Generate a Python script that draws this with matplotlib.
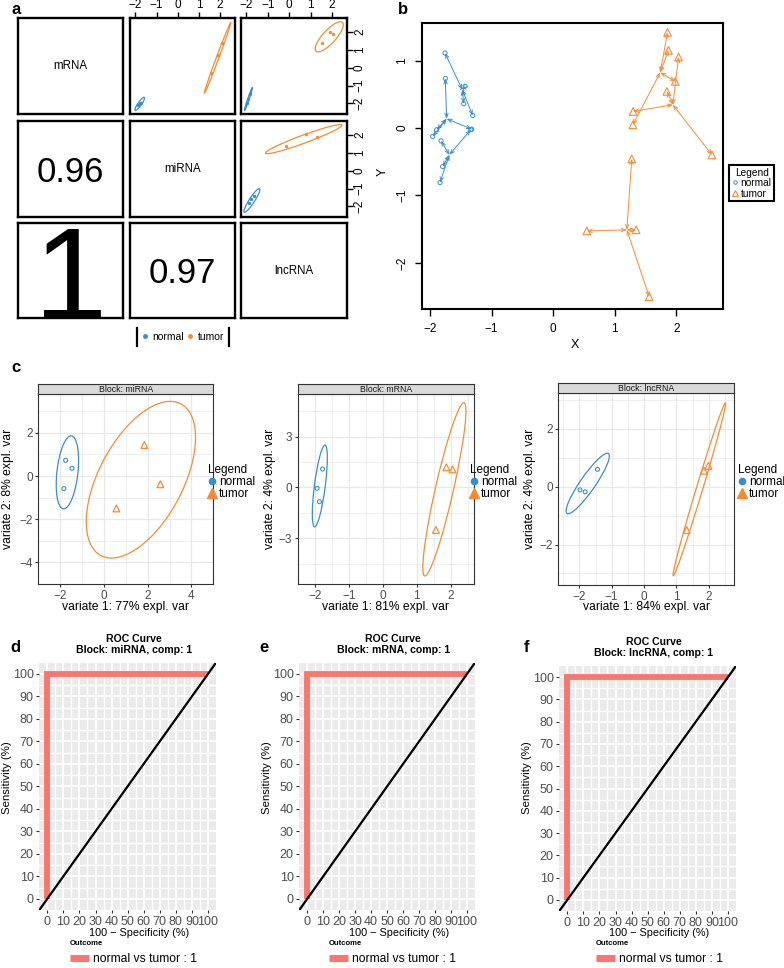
import matplotlib.pyplot as plt
from matplotlib.patches import Ellipse
from matplotlib.lines import Line2D

plt.rcParams['font.family'] = ['Liberation Sans', 'DejaVu Sans']

W, H = 784, 968
BLUE = '#388ECC'
ORANGE = '#F68B33'
ROC_RED = '#F8766D'

# ==========================================
# Data
# ==========================================
blocks = ['mRNA', 'miRNA', 'lncRNA']
groups = ['normal', 'tumor']

# panel a: lower triangle = correlation between blocks
cor_cells = [(1, 0), (2, 0), (2, 1)]
cor_labels = ['0.96', '1', '0.97']
cor_sizes = [25, 95, 25]

# panel a: upper triangle = block vs block component 1
pair_cells = [(0, 1), (0, 2), (1, 2)]
pair_normal_x = [[-1.86, -1.80, -1.72], [-1.98, -1.90, -1.82], [-1.86, -1.62, -1.76]]
pair_normal_y = [[-2.12, -2.00, -1.96], [-2.00, -1.75, -1.50], [-1.83, -1.44, -1.61]]
pair_tumor_x = [[1.58, 1.90, 2.09], [1.92, 2.06, 1.54], [-0.16, 0.78, 1.30]]
pair_tumor_y = [[-0.31, 0.70, 1.38], [2.00, 1.89, 1.38], [1.39, 2.06, 1.89]]
# ellipses: centre x, centre y, semi-major, semi-minor, angle (deg)
pair_normal_ell = [(-1.79, -2.03, 0.42, 0.09, 60), (-1.90, -1.75, 0.68, 0.035, 74),
                   (-1.74, -1.67, 0.75, 0.13, 62)]
pair_tumor_ell = [(1.88, 0.56, 2.095, 0.06, 72.6), (1.87, 1.74, 1.02, 0.33, 54),
                  (0.68, 1.78, 1.95, 0.22, 24)]
a_ticks = [-2, -1, 0, 1, 2]

# panel b: arrow plot (centroid -> each block)
b_normal_cx = [-1.475, -1.729, -1.686]
b_normal_cy = [0.569, 0.138, -0.397]
b_normal_ex = [[-1.756, -1.306, -1.452, -1.43], [-1.751, -1.322, -1.957, -1.892],
               [-1.821, -1.338, -1.794, -1.837]]
b_normal_ey = [[1.114, 0.187, 0.361, 0.62], [0.737, -0.015, -0.124, -0.025],
               [-0.189, -0.025, -0.570, -0.808]]
b_tumor_cx = [1.740, 1.946, 1.198]
b_tumor_cy = [0.826, 0.346, -1.511]
b_tumor_ex = [[1.859, 1.875, 1.984, 1.296], [2.038, 1.848, 1.301, 2.580],
              [1.278, 0.548, 1.350, 1.561]]
b_tumor_ey = [[1.421, 1.153, 0.693, 0.049], [1.055, 0.544, 0.247, -0.397],
              [-0.456, -1.526, -1.510, -2.502]]

# panel c: individual plots per block
c_blocks = ['miRNA', 'mRNA', 'lncRNA']
c_var1 = [77, 81, 84]
c_var2 = [8, 4, 4]
c_normal_x = [[-1.75, -1.46, -1.83], [-1.77, -1.93, -1.86], [-1.44, -1.98, -1.82]]
c_normal_y = [[0.73, 0.36, -0.58], [1.08, -0.06, -0.85], [0.60, -0.11, -0.18]]
c_tumor_x = [[1.85, 2.58, 0.57], [1.87, 2.05, 1.56], [1.85, 1.99, 1.32]]
c_tumor_y = [[1.44, -0.38, -1.50], [1.18, 1.06, -2.52], [0.55, 0.72, -1.50]]
c_normal_ell = [(-1.67, 0.17, 1.70, 0.48, 83.8), (-1.85, 0.08, 2.42, 0.16, 86.4),
                (-1.74, 0.11, 1.22, 0.24, 58.5)]
c_tumor_ell = [(1.69, -0.17, 3.96, 1.93, 62.7), (1.81, -0.12, 5.15, 0.27, 83.6),
               (1.71, -0.09, 3.10, 0.10, 74.9)]
c_xlims = [(-2.45, 4.50), (-2.25, 2.68), (-2.65, 2.79)]
c_ylims = [(-4.11, 3.80), (-5.71, 5.51), (-3.40, 3.25)]
c_xticks = [[-2, 0, 2, 4], [-2, -1, 0, 1, 2], [-2, -1, 0, 1, 2]]
c_yticks = [[-4, -2, 0, 2], [-3, 0, 3], [-2, 0, 2]]

# panels d-f: ROC curves
roc_blocks = ['miRNA', 'mRNA', 'lncRNA']
roc_fpr = [0, 0, 100]
roc_tpr = [0, 100, 100]
roc_ticks = list(range(0, 101, 10))

# ==========================================
# Helpers (pixel layout)
# ==========================================
fig = plt.figure(figsize=(W / 100, H / 100), dpi=100)


def px_axes(x0, y0, x1, y1):
    return fig.add_axes([x0 / W, 1 - y1 / H, (x1 - x0) / W, (y1 - y0) / H])


def px_text(x, y, s, **kw):
    kw.setdefault('ha', 'center')
    kw.setdefault('va', 'center')
    return fig.text(x / W, 1 - y / H, s, **kw)


def add_ellipse(ax, ell, color, lw=0.9):
    cx, cy, a, b, ang = ell
    ax.add_patch(Ellipse((cx, cy), 2 * a, 2 * b, angle=ang, fill=False,
                         edgecolor=color, linewidth=lw))


def minus(vals):
    return [f'{t:d}'.replace('-', '\u2212') for t in vals]


# ==========================================
# Panel a
# ==========================================
col_x = [(18, 123), (130, 235), (241, 347)]
row_y = [(18, 114), (121, 217), (223, 318)]
axes_a = {}
for r in range(3):
    for c in range(3):
        ax = px_axes(col_x[c][0], row_y[r][0], col_x[c][1], row_y[r][1])
        ax.set_xlim(-2.25, 2.7)
        ax.set_ylim(-2.6, 2.8)
        ax.set_xticks([])
        ax.set_yticks([])
        for s in ax.spines.values():
            s.set_linewidth(1.7)
        axes_a[(r, c)] = ax

for i, name in enumerate(blocks):
    axes_a[(i, i)].text(0.5, 0.5, name, transform=axes_a[(i, i)].transAxes,
                        ha='center', va='center', fontsize=8.3)

for (r, c), lab, fs in zip(cor_cells, cor_labels, cor_sizes):
    ax = axes_a[(r, c)]
    y0 = -0.02 if lab == '1' else 0.365
    ax.text(0.5, y0, lab, transform=ax.transAxes, ha='center', va='baseline',
            fontsize=fs, clip_on=True)

for k, (r, c) in enumerate(pair_cells):
    ax = axes_a[(r, c)]
    ax.scatter(pair_normal_x[k], pair_normal_y[k], s=2, color=BLUE, zorder=3)
    ax.scatter(pair_tumor_x[k], pair_tumor_y[k], s=2, color=ORANGE, zorder=3)
    add_ellipse(ax, pair_normal_ell[k], BLUE)
    add_ellipse(ax, pair_tumor_ell[k], ORANGE)

for c in (1, 2):
    ax = axes_a[(0, c)]
    ax.xaxis.set_ticks_position('top')
    ax.set_xticks(a_ticks)
    ax.set_xticklabels(minus(a_ticks))
    ax.tick_params(axis='x', direction='out', length=4, width=1, pad=1, labelsize=8.5)
for r in (0, 1):
    ax = axes_a[(r, 2)]
    ax.yaxis.set_ticks_position('right')
    ax.set_yticks(a_ticks)
    ax.set_yticklabels(minus(a_ticks), rotation=90, va='center')
    ax.tick_params(axis='y', direction='out', length=4, width=1, pad=1, labelsize=8.5)

# legend strip under panel a
axl = px_axes(137, 328, 229, 346)
axl.set_xticks([])
axl.set_yticks([])
axl.spines['top'].set_visible(False)
axl.spines['bottom'].set_visible(False)
axl.spines['left'].set_linewidth(1.6)
axl.spines['right'].set_linewidth(1.6)
axl.patch.set_alpha(0)
a_handles = [Line2D([], [], ls='none', marker='o', ms=2.5, color=col)
             for col in (BLUE, ORANGE)]
axl.legend(a_handles, groups, ncol=2, loc='center', frameon=False, fontsize=7.5,
           handlelength=0.6, handletextpad=0.4, columnspacing=0.3, borderpad=0,
           borderaxespad=0)

# ==========================================
# Panel b
# ==========================================
axb = px_axes(422, 23, 723, 309)
axb.set_xlim(-2.13, 2.76)
axb.set_ylim(-2.685, 1.56)
arrow_kw = dict(arrowstyle='<->,head_length=0.3,head_width=0.12', lw=0.7,
                shrinkA=0, shrinkB=0)
for i in range(3):
    for ex, ey in zip(b_normal_ex[i], b_normal_ey[i]):
        axb.annotate('', xy=(ex, ey), xytext=(b_normal_cx[i], b_normal_cy[i]),
                     arrowprops=dict(color=BLUE, **arrow_kw))
    axb.scatter(b_normal_ex[i], b_normal_ey[i], marker='o', s=9, facecolors='none',
                edgecolors=BLUE, linewidths=0.7, zorder=3)
    for ex, ey in zip(b_tumor_ex[i], b_tumor_ey[i]):
        axb.annotate('', xy=(ex, ey), xytext=(b_tumor_cx[i], b_tumor_cy[i]),
                     arrowprops=dict(color=ORANGE, **arrow_kw))
    axb.scatter(b_tumor_ex[i], b_tumor_ey[i], marker='^', s=30, facecolors='none',
                edgecolors=ORANGE, linewidths=0.8, zorder=3)
axb.set_xticks(a_ticks)
axb.set_xticklabels(minus(a_ticks))
axb.set_yticks([-2, -1, 0, 1])
axb.set_yticklabels(minus([-2, -1, 0, 1]), rotation=90, va='center')
axb.tick_params(direction='out', length=5, width=1, pad=5, labelsize=8.5)
for s in axb.spines.values():
    s.set_linewidth(1.5)
px_text(575, 345, 'X', fontsize=9)
px_text(383, 172, 'Y', fontsize=9, rotation=90)
b_handles = [Line2D([], [], ls='none', marker='o', ms=2.5, mfc='none', mec=BLUE, mew=0.7),
             Line2D([], [], ls='none', marker='^', ms=4.5, mfc='none', mec=ORANGE, mew=0.8)]
legb = axb.legend(b_handles, groups, title='Legend', loc='upper left',
                  bbox_to_anchor=(729 / W, 1 - 165 / H), bbox_transform=fig.transFigure,
                  fontsize=7.3, title_fontsize=7.3, handlelength=0.6, handletextpad=0.3,
                  borderpad=0.25, labelspacing=0.05, borderaxespad=0, fancybox=False,
                  edgecolor='black', framealpha=1)
legb.get_frame().set_linewidth(1.5)
legb.set_clip_on(False)

# ==========================================
# Panel c
# ==========================================
c_boxes = [(38.3, 394, 213.3, 584), (297.7, 394, 474, 584), (558.3, 392.7, 734.3, 585)]
c_strip_top = [384, 384, 383.3]
c_legend_x = [208, 470, 738]
c_ylabel_x = [8, 270, 530]
grid_col = '#E8E8E8'
for i in range(3):
    x0, y0, x1, y1 = c_boxes[i]
    ax = px_axes(x0, y0, x1, y1)
    ax.set_xlim(*c_xlims[i])
    ax.set_ylim(*c_ylims[i])
    ax.set_xticks(c_xticks[i])
    ax.set_yticks(c_yticks[i])
    ax.set_xticklabels(minus(c_xticks[i]))
    ax.set_yticklabels(minus(c_yticks[i]))
    xs = c_xticks[i]
    ys = c_yticks[i]
    ax.set_xticks([(a + b) / 2 for a, b in zip(xs[:-1], xs[1:])]
                  + [xs[0] - (xs[1] - xs[0]) / 2, xs[-1] + (xs[1] - xs[0]) / 2], minor=True)
    ax.set_yticks([(a + b) / 2 for a, b in zip(ys[:-1], ys[1:])]
                  + [ys[0] - (ys[1] - ys[0]) / 2, ys[-1] + (ys[1] - ys[0]) / 2], minor=True)
    ax.grid(which='major', color=grid_col, lw=0.9)
    ax.grid(which='minor', color=grid_col, lw=0.5)
    ax.set_axisbelow(True)
    ax.tick_params(which='minor', length=0)
    ax.tick_params(which='major', direction='out', length=2.5, width=0.8, color='#333333',
                   labelcolor='#4D4D4D', labelsize=8.5, pad=1.5)
    for s in ax.spines.values():
        s.set_color('#333333')
        s.set_linewidth(0.8)
    add_ellipse(ax, c_normal_ell[i], BLUE)
    add_ellipse(ax, c_tumor_ell[i], ORANGE)
    ax.scatter(c_normal_x[i], c_normal_y[i], marker='o', s=8, facecolors='none',
               edgecolors=BLUE, linewidths=0.8, zorder=3)
    ax.scatter(c_tumor_x[i], c_tumor_y[i], marker='^', s=24, facecolors='none',
               edgecolors=ORANGE, linewidths=0.9, zorder=3)
    # strip
    axs = px_axes(x0, c_strip_top[i], x1, y0)
    axs.set_facecolor('#D9D9D9')
    axs.set_xticks([])
    axs.set_yticks([])
    for s in axs.spines.values():
        s.set_color('#333333')
        s.set_linewidth(0.8)
    axs.text(0.5, 0.45, f'Block: {c_blocks[i]}', transform=axs.transAxes,
             ha='center', va='center', fontsize=6.3, color='#1A1A1A')
    # axis titles
    px_text((x0 + x1) / 2, 607, f'variate 1: {c_var1[i]}% expl. var', fontsize=8.7)
    px_text(c_ylabel_x[i], (y0 + y1) / 2, f'variate 2: {c_var2[i]}% expl. var',
            fontsize=8.7, rotation=90)
    c_handles = [Line2D([], [], ls='none', marker='o', ms=4.5, color=BLUE),
                 Line2D([], [], ls='none', marker='^', ms=6.5, color=ORANGE)]
    ax.legend(c_handles, groups, title='Legend', alignment='left', loc='upper left',
              bbox_to_anchor=(c_legend_x[i] / W, 1 - 464 / H), bbox_transform=fig.transFigure,
              frameon=False, fontsize=8.5, title_fontsize=8.5, handlelength=0.7,
              handletextpad=0.25, borderpad=0, labelspacing=0.02, borderaxespad=0)

# ==========================================
# Panels d-f: ROC
# ==========================================
roc_boxes = [(39.3, 662.7, 216, 910), (299.3, 662.7, 475, 910), (559.3, 666, 736, 911)]
roc_leg_x = [70, 329, 596]
roc_ylabel_x = [7, 267, 527]
for i in range(3):
    x0, y0, x1, y1 = roc_boxes[i]
    w = x1 - x0
    ax = px_axes(x0, y0, x1, y1)
    ax.set_facecolor('#EBEBEB')
    ax.set_xlim(-5, 105)
    ax.set_ylim(-5, 105)
    ax.set_xticks(roc_ticks)
    ax.set_yticks(roc_ticks)
    ax.set_xticks([t + 5 for t in roc_ticks[:-1]], minor=True)
    ax.set_yticks([t + 5 for t in roc_ticks[:-1]], minor=True)
    ax.grid(which='major', color='white', lw=1.3)
    ax.grid(which='minor', color='white', lw=1.0)
    ax.set_axisbelow(True)
    ax.tick_params(which='minor', length=0)
    ax.tick_params(which='major', direction='out', length=2.5, width=0.8, color='#333333',
                   labelcolor='#4D4D4D', labelsize=9, pad=1.5)
    for s in ax.spines.values():
        s.set_visible(False)
    ax.plot(roc_fpr, roc_tpr, color=ROC_RED, lw=4.2, solid_capstyle='butt',
            solid_joinstyle='miter', zorder=3)
    ax.axline((0, 0), slope=1, color='black', lw=1.6, zorder=4)
    ax.text(0.5 + 6 / w, 1 + 8 / (y1 - y0),
            f'ROC Curve\nBlock: {roc_blocks[i]}, comp: 1', transform=ax.transAxes,
            ha='center', va='bottom', fontsize=7.6, fontweight='bold', linespacing=1.1)
    px_text(x0 + w / 2 + 11.5, 933, '100 \u2212 Specificity (%)', fontsize=7.8)
    px_text(roc_ylabel_x[i], 778, 'Sensitivity (%)', fontsize=8.2, rotation=90)
    roc_handle = [Line2D([], [], color=ROC_RED, lw=5, solid_capstyle='butt')]
    ax.legend(roc_handle, ['normal vs tumor : 1'], title='Outcome', alignment='left',
              loc='upper left', bbox_to_anchor=(roc_leg_x[i] / W, 1 - 940 / H),
              bbox_transform=fig.transFigure, frameon=False, fontsize=8.7,
              title_fontproperties={'weight': 'bold', 'size': 5.5}, handlelength=1.6,
              handletextpad=0.3, borderpad=0, borderaxespad=0)

# panel letters
for lab, (x, y) in zip('abcdef', [(16, 9), (403, 9), (16, 367), (15, 648), (264, 648), (526, 648)]):
    px_text(x, y, lab, fontsize=12, fontweight='bold')

fig.savefig('out.png', dpi=100)
